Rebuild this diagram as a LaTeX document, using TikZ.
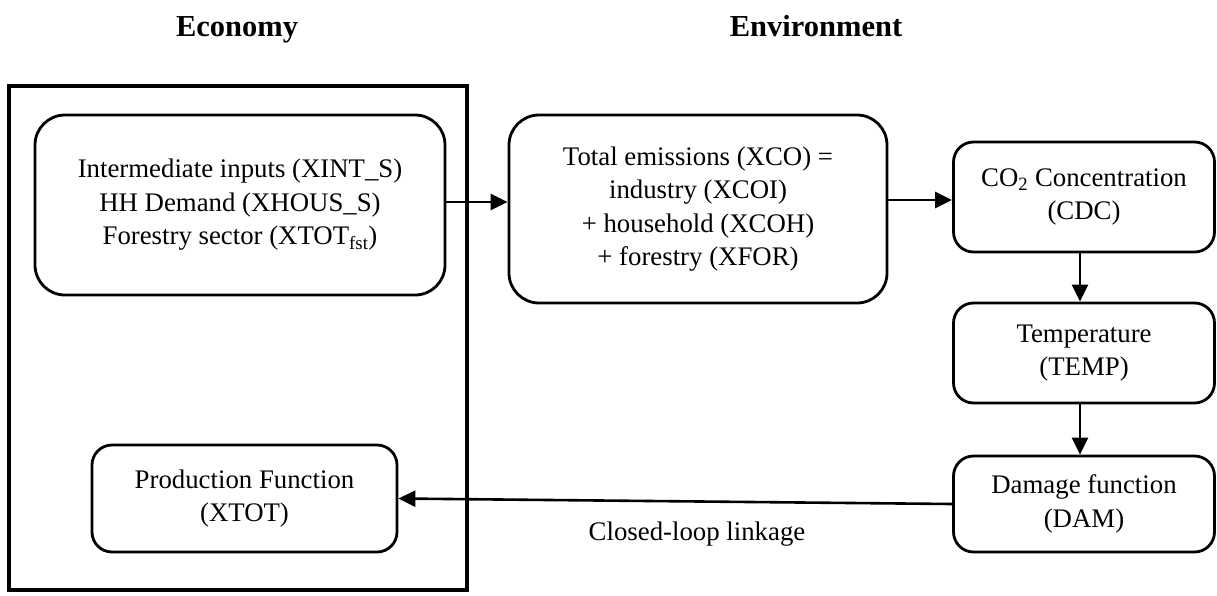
\documentclass[tikz,border=0pt]{standalone}
\usepackage{fontspec}
\setmainfont{Liberation Serif}
\usetikzlibrary{arrows.meta}
\tikzset{
  box/.style={draw, line width=2.8pt, rounded corners=#1, align=center, inner sep=0pt,
    font=\fontsize{26.8}{33.5}\selectfont},
  box/.default=20pt,
  arr/.style={line width=2.6pt, -{Triangle[length=17pt,width=16pt]}},
  title/.style={font=\fontsize{30.5}{36}\selectfont\bfseries, anchor=base},
  lbl/.style={font=\fontsize{26.8}{33.5}\selectfont, anchor=base}
}
\begin{document}
\begin{tikzpicture}[x=1pt,y=-1pt]
\useasboundingbox (0,0) rectangle (1217,595);
\node[title] (econ) at (237,36) {Economy};
\node[title] (env) at (816,36) {Environment};
\node[draw, line width=4.4pt, minimum width=458pt, minimum height=504pt, inner sep=0pt] (outer) at (238,338) {};
\node[box=30pt, minimum width=410pt, minimum height=180pt] (inp) at (240,205)
  {Intermediate inputs (XINT\_S)\\HH Demand (XHOUS\_S)\\Forestry sector (XTOT\textsubscript{fst})};
\node[box=30pt, minimum width=378pt, minimum height=188pt] (emi) at (698,209)
  {Total emissions (XCO) =\\industry (XCOI)\\+ household (XCOH)\\+ forestry (XFOR)};
\node[box, minimum width=261pt, minimum height=110pt] (cdc) at (1084,197)
  {CO\textsubscript{2} Concentration\\(CDC)};
\node[box, minimum width=261pt, minimum height=100pt] (temp) at (1084,353)
  {Temperature\\(TEMP)};
\node[box, minimum width=261pt, minimum height=96pt] (dam) at (1084,504)
  {Damage function\\(DAM)};
\node[box, minimum width=305pt, minimum height=107pt] (prod) at (244.5,498.5)
  {Production Function\\(XTOT)};
\draw[arr] ([yshift=3pt]inp.east) -- ([yshift=3pt]inp.east -| emi.west);
\draw[arr] ([yshift=9pt]emi.east) -- ([yshift=9pt]emi.east -| cdc.west);
\draw[arr] ([xshift=-4pt]cdc.south) -- ([xshift=-4pt]temp.north);
\draw[arr] ([xshift=-4pt]temp.south) -- ([xshift=-4pt]dam.north);
\draw[arr] (dam.west) -- (prod.east);
\node[lbl] (loop) at (697,540) {Closed-loop linkage};
\end{tikzpicture}
\end{document}
